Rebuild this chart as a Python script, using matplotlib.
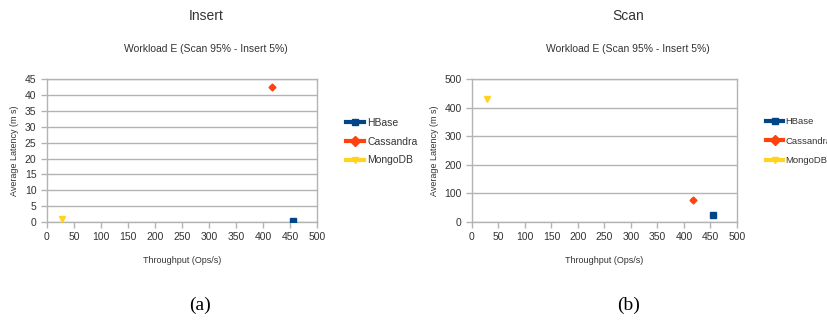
import matplotlib
matplotlib.use("Agg")
import matplotlib.pyplot as plt
from matplotlib.lines import Line2D

plt.rcParams['font.family'] = ['Liberation Sans', 'DejaVu Sans']

SERIES = ["HBase", "Cassandra", "MongoDB"]
COLORS = ["#004586", "#ff420e", "#ffd320"]
MARKERS = ["s", "D", "v"]
MSIZES = [5, 3.5, 5]

# throughput (ops/s) and latency (ms) per database
insert_x = [455, 417, 28]
insert_y = [0.4, 42.6, 0.9]
scan_x = [455, 417, 29]
scan_y = [24, 76, 431]

xticks = list(range(0, 501, 50))
insert_yticks = list(range(0, 46, 5))
scan_yticks = list(range(0, 501, 100))

GRID = "#b3b3b3"
TXT = "#333333"

fig = plt.figure(figsize=(8.27, 3.2), dpi=100)

def panel(rect, xs, ys, yticks, title, tag, tag_x, leg_x, leg_fs, leg_sp):
  ax = fig.add_axes(rect)
  for i in range(len(SERIES)):
    ax.plot(xs[i], ys[i], marker=MARKERS[i], color=COLORS[i], ms=MSIZES[i],
            linestyle='none', zorder=3)
  ax.set_xlim(0, 500)
  ax.set_ylim(0, yticks[-1])
  ax.set_xticks(xticks)
  ax.set_yticks(yticks)
  ax.yaxis.grid(True, color=GRID, lw=1)
  ax.set_axisbelow(True)
  for s in ax.spines.values():
    s.set_color(GRID)
    s.set_linewidth(1)
  ax.tick_params(colors=GRID, labelcolor=TXT, labelsize=7.5, length=4, width=1)
  ax.set_xlabel("Throughput (Ops/s)", fontsize=6.5, color=TXT, labelpad=10)
  ax.set_ylabel("Average Latency (m s)", fontsize=6.5, color=TXT, labelpad=4)
  ax.text(0.59, 1.21, "Workload E (Scan 95% - Insert 5%)", transform=ax.transAxes,
          ha='center', va='center', fontsize=7.5, color=TXT)
  ax.text(0.59, 1.44, title, transform=ax.transAxes,
          ha='center', va='center', fontsize=10, color=TXT)
  handles = [Line2D([0], [0], color=COLORS[i], lw=3, marker=MARKERS[i], ms=5)
             for i in range(len(SERIES))]
  fig.legend(handles, SERIES, loc='upper left', bbox_to_anchor=(leg_x, 0.645),
             frameon=False, fontsize=leg_fs, handlelength=1.8, handletextpad=0.25,
             labelspacing=leg_sp, borderaxespad=0, labelcolor=TXT)
  fig.text(tag_x, 0.045, tag, ha='center', va='center', fontsize=14,
           family=['Liberation Serif', 'DejaVu Serif'])
  return ax

panel([0.0568, 0.306, 0.3265, 0.447], insert_x, insert_y, insert_yticks,
      "Insert", "(a)", 0.242, 0.413, 7.5, 0.85)
panel([0.5707, 0.306, 0.3204, 0.447], scan_x, scan_y, scan_yticks,
      "Scan", "(b)", 0.760, 0.922, 6.8, 1.1)

fig.savefig("out.png", dpi=100)
